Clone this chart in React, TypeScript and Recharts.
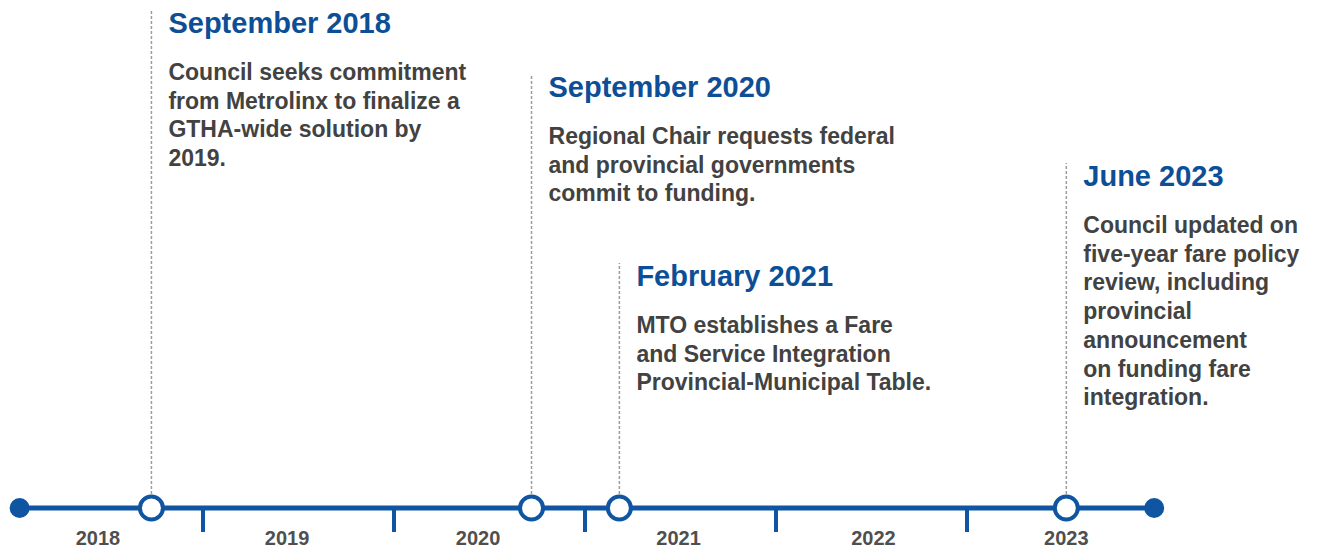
import React from "react";
import { ComposedChart, XAxis, YAxis, Line, Scatter, ReferenceLine } from "recharts";

// ---- data ----
const eventDates = [2018.73, 2020.72, 2021.18, 2023.52];
const eventTitles = ["September 2018", "September 2020", "February 2021", "June 2023"];
const eventLines = [
  ["Council seeks commitment", "from Metrolinx to finalize a", "GTHA-wide solution by", "2019."],
  ["Regional Chair requests federal", "and provincial governments", "commit to funding."],
  ["MTO establishes a Fare", "and Service Integration", "Provincial-Municipal Table."],
  [
    "Council updated on",
    "five-year fare policy",
    "review, including",
    "provincial",
    "announcement",
    "on funding fare",
    "integration.",
  ],
];
// height of each annotation stem above the timeline (layout)
const stemHeights = [498, 434, 245, 345];

const timelineStart = 2018.04;
const timelineEnd = 2023.98;
const yearBoundaries = [2019, 2020, 2021, 2022, 2023];
const yearLabels = ["2018", "2019", "2020", "2021", "2022", "2023"];
const yearLabelPositions = [2018.45, 2019.44, 2020.44, 2021.49, 2022.51, 2023.52];

// ---- styles ----
const BLUE = "#0f55a2";
const HEAD = "#0d4f96";
const BODY = "#424242";
const FONT = "'Liberation Sans', Arial, Helvetica, sans-serif";

const timelineData = [
  { date: timelineStart, y: 0 },
  { date: timelineEnd, y: 0 },
];
const eventPoints = eventDates.map((d, i) => ({ date: d, y: 0, idx: i }));
const labelPoints = eventDates.map((d, i) => ({ date: d, y: stemHeights[i], idx: i }));

const EventCircle = (props: any) => {
  const { cx, cy } = props;
  return <circle cx={cx} cy={cy} r={11.5} fill="#ffffff" stroke={BLUE} strokeWidth={4} />;
};

const LabelBlock = (props: any) => {
  const { cx, cy, payload } = props;
  const i = payload.idx;
  const x = cx + 17;
  const headY = cy + 23;
  return (
    <g>
      <text x={x} y={headY} fill={HEAD} fontSize={29} fontWeight="bold" fontFamily={FONT}>
        {eventTitles[i]}
      </text>
      {eventLines[i].map((l, k) => (
        <text
          key={k}
          x={x}
          y={headY + 47 + k * 28.7}
          fill={BODY}
          fontSize={23}
          fontWeight="bold"
          fontFamily={FONT}
        >
          {l}
        </text>
      ))}
    </g>
  );
};

export default function App() {
  return (
    <div style={{ position: "absolute", left: 0, top: 0, width: 1330, height: 550, background: "#fff" }}>
      <ComposedChart width={1330} height={550} margin={{ top: 0, right: 172, bottom: 0, left: 12 }}>
        <XAxis
          dataKey="date"
          type="number"
          domain={[2018, 2024]}
          ticks={yearLabelPositions}
          interval={0}
          tickFormatter={(_v: number, i: number) => yearLabels[i]}
          axisLine={false}
          tickLine={false}
          tickMargin={5}
          height={30}
          tick={{ fontSize: 20, fontWeight: "bold", fill: "#4f4f4f", fontFamily: FONT }}
        />
        <YAxis dataKey="y" type="number" domain={[-12, 508]} hide />
        {eventDates.map((d, i) => (
          <ReferenceLine
            key={"stem" + i}
            segment={[
              { x: d, y: 14 },
              { x: d, y: stemHeights[i] },
            ]}
            stroke="#9c9c9c"
            strokeWidth={1.5}
            strokeDasharray="3 2"
            ifOverflow="visible"
          />
        ))}
        {yearBoundaries.map((b) => (
          <ReferenceLine
            key={"b" + b}
            segment={[
              { x: b, y: 0 },
              { x: b, y: -24 },
            ]}
            stroke={BLUE}
            strokeWidth={4}
            ifOverflow="visible"
          />
        ))}
        <Line
          data={timelineData}
          dataKey="y"
          stroke={BLUE}
          strokeWidth={5}
          dot={{ r: 10, fill: BLUE, stroke: BLUE, strokeWidth: 0 }}
          activeDot={false}
          isAnimationActive={false}
        />
        <Scatter data={eventPoints} dataKey="y" shape={EventCircle} isAnimationActive={false} />
        <Scatter data={labelPoints} dataKey="y" shape={LabelBlock} isAnimationActive={false} />
      </ComposedChart>
    </div>
  );
}
